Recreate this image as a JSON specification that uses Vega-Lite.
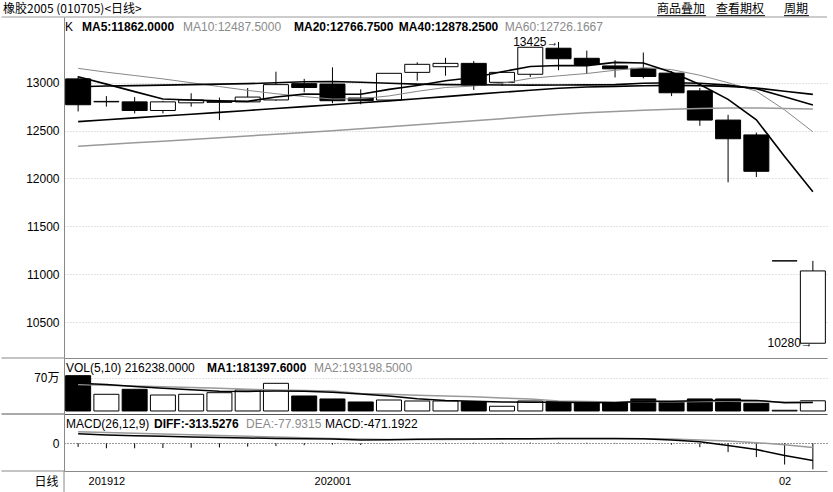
{
  "$schema": "https://vega.github.io/schema/vega-lite/v6.json",
  "padding": {"left": 0, "top": 3, "right": 2, "bottom": 0},
  "background": "white",
  "spacing": 0,
  "bounds": "flush",
  "config": {"view": {"stroke": null}, "axis": {"domainWidth": 1}, "scale": {"continuousPadding": 0}},
  "resolve": {"scale": {"x": "independent", "y": "independent"}},
  "datasets": {
    "k": [
      {"i":0,"d":"2019-12-19","o":13040,"h":13070,"l":12700,"c":12770,"v":749000,"ma5":13062,"ma10":13150,"ma20":12958,"ma40":12594,"ma60":12337,"vma5":590000,"vma10":560000,"diff":172,"dea":208,"m":-65},
      {"i":1,"d":"2019-12-20","o":12800,"h":12860,"l":12750,"c":12805,"v":354000,"ma5":12985,"ma10":13110,"ma20":12965,"ma40":12614,"ma60":12355,"vma5":560000,"vma10":545000,"diff":150,"dea":196,"m":-90},
      {"i":2,"d":"2019-12-23","o":12800,"h":12850,"l":12680,"c":12710,"v":460000,"ma5":12907,"ma10":13075,"ma20":12970,"ma40":12633,"ma60":12373,"vma5":520000,"vma10":530000,"diff":138,"dea":184,"m":-90},
      {"i":3,"d":"2019-12-24","o":12710,"h":12810,"l":12680,"c":12800,"v":339000,"ma5":12830,"ma10":13040,"ma20":12975,"ma40":12652,"ma60":12390,"vma5":480000,"vma10":515000,"diff":128,"dea":170,"m":-85},
      {"i":4,"d":"2019-12-25","o":12790,"h":12890,"l":12750,"c":12820,"v":354000,"ma5":12820,"ma10":13000,"ma20":12980,"ma40":12671,"ma60":12408,"vma5":451000,"vma10":500000,"diff":116,"dea":156,"m":-80},
      {"i":5,"d":"2019-12-26","o":12795,"h":12845,"l":12610,"c":12805,"v":388000,"ma5":12810,"ma10":12960,"ma20":12985,"ma40":12690,"ma60":12426,"vma5":420000,"vma10":480000,"diff":104,"dea":142,"m":-75},
      {"i":6,"d":"2019-12-27","o":12800,"h":12945,"l":12800,"c":12850,"v":445000,"ma5":12805,"ma10":12920,"ma20":12990,"ma40":12710,"ma60":12444,"vma5":415000,"vma10":460000,"diff":96,"dea":128,"m":-60},
      {"i":7,"d":"2019-12-30","o":12820,"h":13115,"l":12810,"c":12980,"v":587000,"ma5":12851,"ma10":12885,"ma20":13000,"ma40":12730,"ma60":12462,"vma5":423000,"vma10":445000,"diff":88,"dea":114,"m":-50},
      {"i":8,"d":"2019-12-31","o":12990,"h":13040,"l":12900,"c":12950,"v":318000,"ma5":12881,"ma10":12855,"ma20":13010,"ma40":12750,"ma60":12480,"vma5":418000,"vma10":435000,"diff":82,"dea":100,"m":-35},
      {"i":9,"d":"2020-01-02","o":12986,"h":13160,"l":12785,"c":12812,"v":255000,"ma5":12880,"ma10":12830,"ma20":13012,"ma40":12770,"ma60":12499,"vma5":399000,"vma10":425000,"diff":76,"dea":88,"m":-25},
      {"i":10,"d":"2020-01-03","o":12840,"h":12931,"l":12775,"c":12812,"v":191000,"ma5":12880,"ma10":12833,"ma20":13005,"ma40":12790,"ma60":12520,"vma5":359000,"vma10":369000,"diff":60,"dea":76,"m":-30},
      {"i":11,"d":"2020-01-06","o":12819,"h":13098,"l":12810,"c":13098,"v":233000,"ma5":12930,"ma10":12862,"ma20":12995,"ma40":12810,"ma60":12541,"vma5":317000,"vma10":357000,"diff":66,"dea":70,"m":-8},
      {"i":12,"d":"2020-01-07","o":13108,"h":13213,"l":13021,"c":13192,"v":212000,"ma5":12970,"ma10":12910,"ma20":12985,"ma40":12832,"ma60":12562,"vma5":260000,"vma10":332000,"diff":72,"dea":68,"m":5},
      {"i":13,"d":"2020-01-08","o":13167,"h":13260,"l":13073,"c":13202,"v":212000,"ma5":13020,"ma10":12950,"ma20":12980,"ma40":12855,"ma60":12583,"vma5":225000,"vma10":320000,"diff":76,"dea":70,"m":8},
      {"i":14,"d":"2020-01-09","o":13202,"h":13226,"l":12924,"c":12976,"v":197000,"ma5":13055,"ma10":12965,"ma20":12978,"ma40":12878,"ma60":12604,"vma5":209000,"vma10":304000,"diff":78,"dea":72,"m":10},
      {"i":15,"d":"2020-01-10","o":13004,"h":13110,"l":12969,"c":13108,"v":100000,"ma5":13115,"ma10":12995,"ma20":12976,"ma40":12900,"ma60":12625,"vma5":191000,"vma10":275000,"diff":81,"dea":75,"m":12},
      {"i":16,"d":"2020-01-13","o":13088,"h":13372,"l":13060,"c":13370,"v":212000,"ma5":13170,"ma10":13045,"ma20":12975,"ma40":12922,"ma60":12646,"vma5":187000,"vma10":252000,"diff":84,"dea":78,"m":12},
      {"i":17,"d":"2020-01-14","o":13360,"h":13425,"l":13130,"c":13250,"v":197000,"ma5":13180,"ma10":13072,"ma20":12976,"ma40":12942,"ma60":12667,"vma5":184000,"vma10":213000,"diff":87,"dea":81,"m":12},
      {"i":18,"d":"2020-01-15","o":13255,"h":13335,"l":13090,"c":13190,"v":197000,"ma5":13178,"ma10":13096,"ma20":12977,"ma40":12955,"ma60":12686,"vma5":181000,"vma10":201000,"diff":88,"dea":83,"m":10},
      {"i":19,"d":"2020-01-16","o":13175,"h":13235,"l":13055,"c":13145,"v":176000,"ma5":13212,"ma10":13130,"ma20":12980,"ma40":12962,"ma60":12700,"vma5":176000,"vma10":193000,"diff":88,"dea":84,"m":8},
      {"i":20,"d":"2020-01-17","o":13150,"h":13315,"l":13045,"c":13065,"v":255000,"ma5":13205,"ma10":13156,"ma20":12994,"ma40":12968,"ma60":12712,"vma5":207000,"vma10":199000,"diff":84,"dea":82,"m":3},
      {"i":21,"d":"2020-01-20","o":13100,"h":13120,"l":12860,"c":12895,"v":197000,"ma5":13110,"ma10":13137,"ma20":12999,"ma40":12972,"ma60":12722,"vma5":204000,"vma10":196000,"diff":62,"dea":76,"m":-25},
      {"i":22,"d":"2020-01-21","o":12915,"h":12945,"l":12550,"c":12610,"v":255000,"ma5":12982,"ma10":13078,"ma20":12994,"ma40":12970,"ma60":12730,"vma5":216000,"vma10":200000,"diff":28,"dea":62,"m":-70},
      {"i":23,"d":"2020-01-22","o":12610,"h":12665,"l":11960,"c":12415,"v":255000,"ma5":12826,"ma10":13000,"ma20":12975,"ma40":12962,"ma60":12735,"vma5":228000,"vma10":204000,"diff":-40,"dea":40,"m":-160},
      {"i":24,"d":"2020-01-23","o":12455,"h":12480,"l":12015,"c":12075,"v":163000,"ma5":12613,"ma10":12912,"ma20":12937,"ma40":12945,"ma60":12736,"vma5":225000,"vma10":201000,"diff":-113,"dea":12,"m":-250},
      {"i":25,"d":"2020-02-03","o":11140,"h":11140,"l":11140,"c":11140,"v":15000,"ma5":12230,"ma10":12716,"ma20":12854,"ma40":12910,"ma60":12732,"vma5":177000,"vma10":192000,"diff":-220,"dea":-28,"m":-385},
      {"i":26,"d":"2020-02-04","o":10280,"h":11140,"l":10280,"c":11035,"v":216238,"ma5":11862,"ma10":12487.5,"ma20":12766.75,"ma40":12878.25,"ma60":12726.1667,"vma5":181397.6,"vma10":193198.5,"diff":-313.5276,"dea":-77.9315,"m":-471.1922}
    ],
    "notes": [
      {"i":17,"v":13425,"t":"13425→"},
      {"i":26,"v":10280,"t":"10280→"}
    ]
  },
  "vconcat": [
    {
      "width": 763,
      "height": 341,
      "data": {"name": "k"},
      "layer": [
        {
          "mark": {"type": "rule", "color": "#000", "strokeWidth": 1},
          "encoding": {
            "x": {"field": "i", "type": "quantitative", "title": null,
                  "scale": {"domain": [-0.5, 26.5], "nice": false, "zero": false, "padding": 0},
                  "axis": {"labels": false, "ticks": false, "grid": false, "title": null, "domainColor": "#888"}},
            "y": {"field": "l", "type": "quantitative", "title": null,
                  "scale": {"domain": [10126, 13686], "nice": false, "zero": false},
                  "axis": {"values": [10500, 11000, 11500, 12000, 12500, 13000], "format": "d", "title": null, "ticks": false, "labelPadding": 5, "labelFont": "Liberation Sans", "labelFontSize": 12, "labelColor": "#000", "domainColor": "#888", "grid": true, "gridColor": "#c4c4c4", "gridDash": [1, 2]}},
            "y2": {"field": "h"}
          }
        },
        {
          "mark": {"type": "bar", "size": 25, "stroke": "#000", "strokeWidth": 1},
          "encoding": {
            "x": {"field": "i", "type": "quantitative", "title": null},
            "y": {"field": "o", "type": "quantitative", "title": null},
            "y2": {"field": "c"},
            "fill": {"condition": {"test": "datum.c >= datum.o", "value": "#ffffff"}, "value": "#000000"}
          }
        },
        {"mark": {"type": "line", "color": "#888", "strokeWidth": 1}, "encoding": {"x": {"field": "i", "type": "quantitative", "title": null}, "y": {"field": "ma10", "type": "quantitative", "title": null}}},
        {"mark": {"type": "line", "color": "#999", "strokeWidth": 1.5}, "encoding": {"x": {"field": "i", "type": "quantitative", "title": null}, "y": {"field": "ma60", "type": "quantitative", "title": null}}},
        {"mark": {"type": "line", "color": "#000", "strokeWidth": 1.6}, "encoding": {"x": {"field": "i", "type": "quantitative", "title": null}, "y": {"field": "ma40", "type": "quantitative", "title": null}}},
        {"mark": {"type": "line", "color": "#000", "strokeWidth": 1.6}, "encoding": {"x": {"field": "i", "type": "quantitative", "title": null}, "y": {"field": "ma20", "type": "quantitative", "title": null}}},
        {"mark": {"type": "line", "color": "#000", "strokeWidth": 1.6}, "encoding": {"x": {"field": "i", "type": "quantitative", "title": null}, "y": {"field": "ma5", "type": "quantitative", "title": null}}},
        {
          "data": {"name": "notes"},
          "mark": {"type": "text", "align": "right", "baseline": "middle", "font": "Liberation Sans", "fontSize": 12, "fill": "#000"},
          "encoding": {"x": {"field": "i", "type": "quantitative", "title": null}, "y": {"field": "v", "type": "quantitative", "title": null}, "text": {"field": "t"}}
        },
        {"data": {"values": [{}]}, "mark": {"type": "rule", "color": "#999", "strokeWidth": 1}, "encoding": {"x": {"datum": -2.712, "type": "quantitative"}, "x2": {"datum": 26.5}, "y": {"datum": 13686, "type": "quantitative"}}},
        {"data": {"values": [{}]}, "mark": {"type": "rule", "color": "#888", "strokeWidth": 1}, "encoding": {"x": {"datum": -2.712, "type": "quantitative"}, "x2": {"datum": -0.5}, "y": {"datum": 10126, "type": "quantitative"}}},
        {"data": {"values": [{}]}, "mark": {"type": "rule", "color": "#000", "strokeWidth": 1}, "encoding": {"x": {"datum": 20.484, "type": "quantitative"}, "x2": {"datum": 22.218}, "y": {"datum": 13700, "type": "quantitative"}}},
        {"data": {"values": [{}]}, "mark": {"type": "rule", "color": "#000", "strokeWidth": 1}, "encoding": {"x": {"datum": 22.572, "type": "quantitative"}, "x2": {"datum": 24.306}, "y": {"datum": 13700, "type": "quantitative"}}},
        {"data": {"values": [{}]}, "mark": {"type": "rule", "color": "#000", "strokeWidth": 1}, "encoding": {"x": {"datum": 24.979, "type": "quantitative"}, "x2": {"datum": 25.863}, "y": {"datum": 13700, "type": "quantitative"}}},
        {"data": {"values": [{}]}, "mark": {"type": "text", "text": "橡胶2005 (010705)<日线>", "align": "left", "baseline": "middle", "font": "Noto Sans CJK SC", "fontSize": 12, "fill": "#000"}, "encoding": {"x": {"datum": -2.659, "type": "quantitative"}, "y": {"datum": 13769, "type": "quantitative"}}},
        {"data": {"values": [{}]}, "mark": {"type": "text", "text": "商品叠加", "align": "left", "baseline": "middle", "font": "Noto Sans CJK SC", "fontSize": 12, "fill": "#000"}, "encoding": {"x": {"datum": 20.484, "type": "quantitative"}, "y": {"datum": 13769, "type": "quantitative"}}},
        {"data": {"values": [{}]}, "mark": {"type": "text", "text": "查看期权", "align": "left", "baseline": "middle", "font": "Noto Sans CJK SC", "fontSize": 12, "fill": "#000"}, "encoding": {"x": {"datum": 22.572, "type": "quantitative"}, "y": {"datum": 13769, "type": "quantitative"}}},
        {"data": {"values": [{}]}, "mark": {"type": "text", "text": "周期", "align": "left", "baseline": "middle", "font": "Noto Sans CJK SC", "fontSize": 12, "fill": "#000"}, "encoding": {"x": {"datum": 24.979, "type": "quantitative"}, "y": {"datum": 13769, "type": "quantitative"}}},
        {"data": {"values": [{}]}, "mark": {"type": "text", "text": "K", "align": "left", "baseline": "middle", "font": "Liberation Sans", "fontSize": 12, "fill": "#000"}, "encoding": {"x": {"datum": -0.465, "type": "quantitative"}, "y": {"datum": 13582, "type": "quantitative"}}},
        {"data": {"values": [{}]}, "mark": {"type": "text", "text": "MA5:11862.0000", "align": "left", "baseline": "middle", "font": "Liberation Sans", "fontSize": 12, "fontWeight": "bold", "fill": "#000"}, "encoding": {"x": {"datum": 0.137, "type": "quantitative"}, "y": {"datum": 13582, "type": "quantitative"}}},
        {"data": {"values": [{}]}, "mark": {"type": "text", "text": "MA10:12487.5000", "align": "left", "baseline": "middle", "font": "Liberation Sans", "fontSize": 12, "fill": "#8a8a8a"}, "encoding": {"x": {"datum": 3.711, "type": "quantitative"}, "y": {"datum": 13582, "type": "quantitative"}}},
        {"data": {"values": [{}]}, "mark": {"type": "text", "text": "MA20:12766.7500", "align": "left", "baseline": "middle", "font": "Liberation Sans", "fontSize": 12, "fontWeight": "bold", "fill": "#000"}, "encoding": {"x": {"datum": 7.639, "type": "quantitative"}, "y": {"datum": 13582, "type": "quantitative"}}},
        {"data": {"values": [{}]}, "mark": {"type": "text", "text": "MA40:12878.2500", "align": "left", "baseline": "middle", "font": "Liberation Sans", "fontSize": 12, "fontWeight": "bold", "fill": "#000"}, "encoding": {"x": {"datum": 11.35, "type": "quantitative"}, "y": {"datum": 13582, "type": "quantitative"}}},
        {"data": {"values": [{}]}, "mark": {"type": "text", "text": "MA60:12726.1667", "align": "left", "baseline": "middle", "font": "Liberation Sans", "fontSize": 12, "fill": "#8a8a8a"}, "encoding": {"x": {"datum": 15.1, "type": "quantitative"}, "y": {"datum": 13582, "type": "quantitative"}}}
      ]
    },
    {
      "width": 763,
      "height": 56,
      "data": {"name": "k"},
      "layer": [
        {
          "mark": {"type": "bar", "size": 25, "stroke": "#000", "strokeWidth": 1},
          "encoding": {
            "x": {"field": "i", "type": "quantitative", "title": null,
                  "scale": {"domain": [-0.5, 26.5], "nice": false, "zero": false, "padding": 0},
                  "axis": {"labels": false, "ticks": false, "grid": false, "title": null, "domainColor": "#555"}},
            "y": {"field": "v", "type": "quantitative", "title": null,
                  "scale": {"domain": [-64000, 1124000], "nice": false, "zero": false},
                  "axis": {"values": [700000], "labelExpr": "'70万'", "title": null, "ticks": false, "labelPadding": 5, "labelFont": "Noto Sans CJK SC", "labelFontSize": 12, "labelColor": "#000", "domainColor": "#888", "grid": true, "gridColor": "#c4c4c4", "gridDash": [1, 2]}},
            "y2": {"datum": 0},
            "fill": {"condition": {"test": "datum.c >= datum.o", "value": "#ffffff"}, "value": "#000000"}
          }
        },
        {"mark": {"type": "line", "color": "#999", "strokeWidth": 1.5}, "encoding": {"x": {"field": "i", "type": "quantitative", "title": null}, "y": {"field": "vma10", "type": "quantitative", "title": null}}},
        {"mark": {"type": "line", "color": "#000", "strokeWidth": 1.5}, "encoding": {"x": {"field": "i", "type": "quantitative", "title": null}, "y": {"field": "vma5", "type": "quantitative", "title": null}}},
        {"data": {"values": [{}]}, "mark": {"type": "rule", "color": "#555", "strokeWidth": 1}, "encoding": {"x": {"datum": -2.712, "type": "quantitative"}, "x2": {"datum": -0.5}, "y": {"datum": -64000, "type": "quantitative"}}},
        {"data": {"values": [{}]}, "mark": {"type": "text", "text": "VOL(5,10) 216238.0000", "align": "left", "baseline": "middle", "font": "Liberation Sans", "fontSize": 12, "fill": "#000"}, "encoding": {"x": {"datum": -0.429, "type": "quantitative"}, "y": {"datum": 911860, "type": "quantitative"}}},
        {"data": {"values": [{}]}, "mark": {"type": "text", "text": "MA1:181397.6000", "align": "left", "baseline": "middle", "font": "Liberation Sans", "fontSize": 12, "fontWeight": "bold", "fill": "#000"}, "encoding": {"x": {"datum": 4.56, "type": "quantitative"}, "y": {"datum": 911860, "type": "quantitative"}}},
        {"data": {"values": [{}]}, "mark": {"type": "text", "text": "MA2:193198.5000", "align": "left", "baseline": "middle", "font": "Liberation Sans", "fontSize": 12, "fill": "#8a8a8a"}, "encoding": {"x": {"datum": 8.347, "type": "quantitative"}, "y": {"datum": 911860, "type": "quantitative"}}}
      ]
    },
    {
      "width": 763,
      "height": 57,
      "data": {"name": "k"},
      "layer": [
        {
          "mark": {"type": "rule", "color": "#000", "strokeWidth": 1},
          "encoding": {
            "x": {"field": "i", "type": "quantitative", "title": "日线",
                  "scale": {"domain": [-0.5, 26.5], "nice": false, "zero": false, "padding": 0},
                  "axis": {"values": [1, 9, 25], "labelExpr": "datum.value == 1 ? '201912' : (datum.value == 9 ? '202001' : '02')", "ticks": false, "grid": false, "labelPadding": 4, "labelFont": "Liberation Sans", "labelFontSize": 11, "labelColor": "#000", "labelFlush": false, "labelOverlap": false, "domainColor": "#888", "title": "日线", "titleFont": "Noto Sans CJK SC", "titleFontSize": 12, "titleFontWeight": "normal", "titleColor": "#000", "titleX": -6, "titleY": 10, "titleAlign": "right", "titleBaseline": "middle", "titleAnchor": "start"}},
            "y": {"field": "m", "type": "quantitative", "title": null,
                  "scale": {"domain": [-502, 531], "nice": false, "zero": false},
                  "axis": {"values": [0], "title": null, "ticks": false, "labelPadding": 5, "labelFont": "Liberation Sans", "labelFontSize": 12, "labelColor": "#000", "domainColor": "#888", "grid": true, "gridColor": "#333", "gridDash": [1, 2]}},
            "y2": {"datum": 0}
          }
        },
        {"mark": {"type": "line", "color": "#999", "strokeWidth": 1.5}, "encoding": {"x": {"field": "i", "type": "quantitative"}, "y": {"field": "dea", "type": "quantitative", "title": null}}},
        {"mark": {"type": "line", "color": "#000", "strokeWidth": 1.5}, "encoding": {"x": {"field": "i", "type": "quantitative"}, "y": {"field": "diff", "type": "quantitative", "title": null}}},
        {"data": {"values": [{}]}, "mark": {"type": "rule", "color": "#888", "strokeWidth": 1}, "encoding": {"x": {"datum": -2.712, "type": "quantitative"}, "x2": {"datum": -0.5}, "y": {"datum": -502, "type": "quantitative"}}},
        {"data": {"values": [{}]}, "mark": {"type": "rule", "color": "#888", "strokeWidth": 1}, "encoding": {"x": {"datum": -0.5, "type": "quantitative"}, "y": {"datum": -502, "type": "quantitative"}, "y2": {"datum": -880}}},
        {"data": {"values": [{}]}, "mark": {"type": "text", "text": "MACD(26,12,9)", "align": "left", "baseline": "middle", "font": "Liberation Sans", "fontSize": 12, "fill": "#000"}, "encoding": {"x": {"datum": -0.429, "type": "quantitative"}, "y": {"datum": 350, "type": "quantitative"}}},
        {"data": {"values": [{}]}, "mark": {"type": "text", "text": "DIFF:-313.5276", "align": "left", "baseline": "middle", "font": "Liberation Sans", "fontSize": 12, "fontWeight": "bold", "fill": "#000"}, "encoding": {"x": {"datum": 2.685, "type": "quantitative"}, "y": {"datum": 350, "type": "quantitative"}}},
        {"data": {"values": [{}]}, "mark": {"type": "text", "text": "DEA:-77.9315", "align": "left", "baseline": "middle", "font": "Liberation Sans", "fontSize": 12, "fill": "#8a8a8a"}, "encoding": {"x": {"datum": 5.94, "type": "quantitative"}, "y": {"datum": 350, "type": "quantitative"}}},
        {"data": {"values": [{}]}, "mark": {"type": "text", "text": "MACD:-471.1922", "align": "left", "baseline": "middle", "font": "Liberation Sans", "fontSize": 12, "fill": "#000"}, "encoding": {"x": {"datum": 8.736, "type": "quantitative"}, "y": {"datum": 350, "type": "quantitative"}}}
      ]
    }
  ]
}
